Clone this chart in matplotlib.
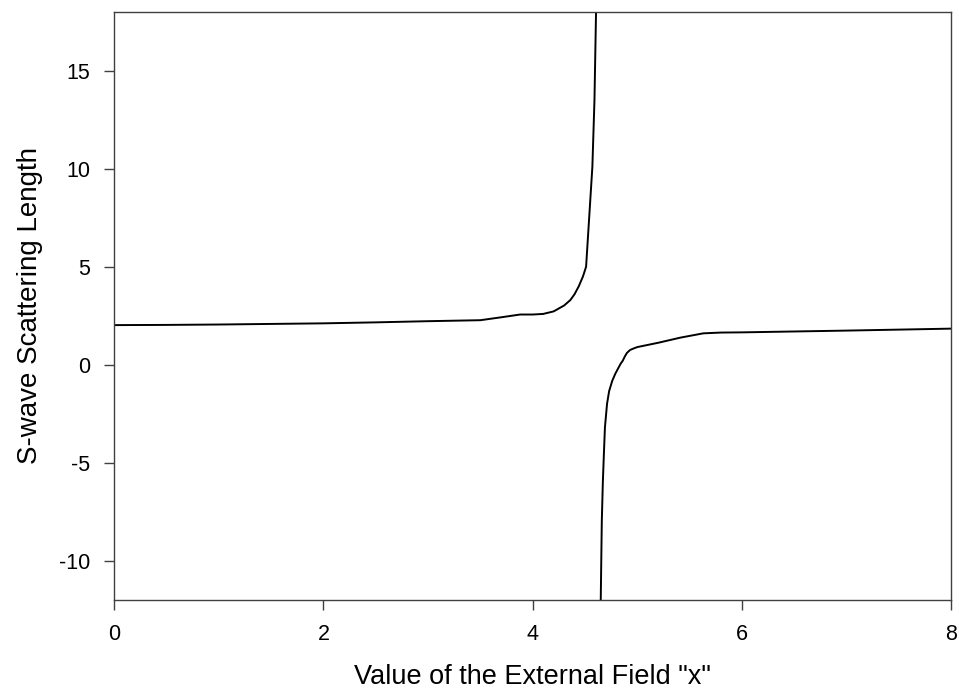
import numpy as np
import matplotlib.pyplot as plt

plt.rcParams['font.family'] = ['Liberation Sans', 'DejaVu Sans']
plt.rcParams['axes.unicode_minus'] = False

# === DATA ===
# branch below the resonance (x < x_res)
x_left = [0.0, 0.5, 1.0, 1.5, 2.0, 2.5, 3.0, 3.5, 3.7, 3.88, 4.0, 4.1, 4.2, 4.3, 4.36,
          4.4, 4.44, 4.48, 4.51, 4.53, 4.55, 4.57, 4.59, 4.605]
y_left = [2.02, 2.03, 2.05, 2.08, 2.11, 2.16, 2.22, 2.27, 2.42, 2.56, 2.56, 2.59, 2.72, 3.02, 3.3,
          3.6, 4.0, 4.5, 5.0, 6.7, 8.4, 10.1, 13.5, 18.0]

# branch above the resonance (x > x_res)
x_right = [4.65, 4.66, 4.67, 4.68, 4.69, 4.71, 4.73, 4.76, 4.79, 4.82, 4.84, 4.86, 4.88,
           4.90, 4.93, 4.96, 5.0, 5.2, 5.41, 5.63, 5.8, 6.0, 7.0, 8.0]
y_right = [-12.0, -8.0, -6.0, -4.55, -3.2, -2.0, -1.35, -0.82, -0.45, -0.15, 0.05, 0.2, 0.42,
           0.6, 0.75, 0.82, 0.9, 1.12, 1.38, 1.6, 1.64, 1.65, 1.74, 1.84]

# === PLOTTING ===
fig = plt.figure(figsize=(9.59, 6.96), dpi=100)
ax = fig.add_axes([0.119, 0.138, 0.873, 0.845])

ax.plot(x_left, y_left, color='black', lw=1.4)
ax.plot(x_right, y_right, color='black', lw=1.4)

ax.set_xlim(0, 8)
ax.set_ylim(-12, 18)
ax.set_xticks([0, 2, 4, 6, 8])
ax.set_yticks([-10, -5, 0, 5, 10, 15])

for s in ax.spines.values():
    s.set_color('#404040')
    s.set_linewidth(1.0)
ax.tick_params(direction='out', length=7, width=1.0, color='#404040', labelsize=15.5, pad=10)

ax.set_xlabel('Value of the External Field "x"', fontsize=19.5, labelpad=14)
ax.set_ylabel('S-wave Scattering Length', fontsize=20, labelpad=12)

fig.savefig('out.png', dpi=100)
